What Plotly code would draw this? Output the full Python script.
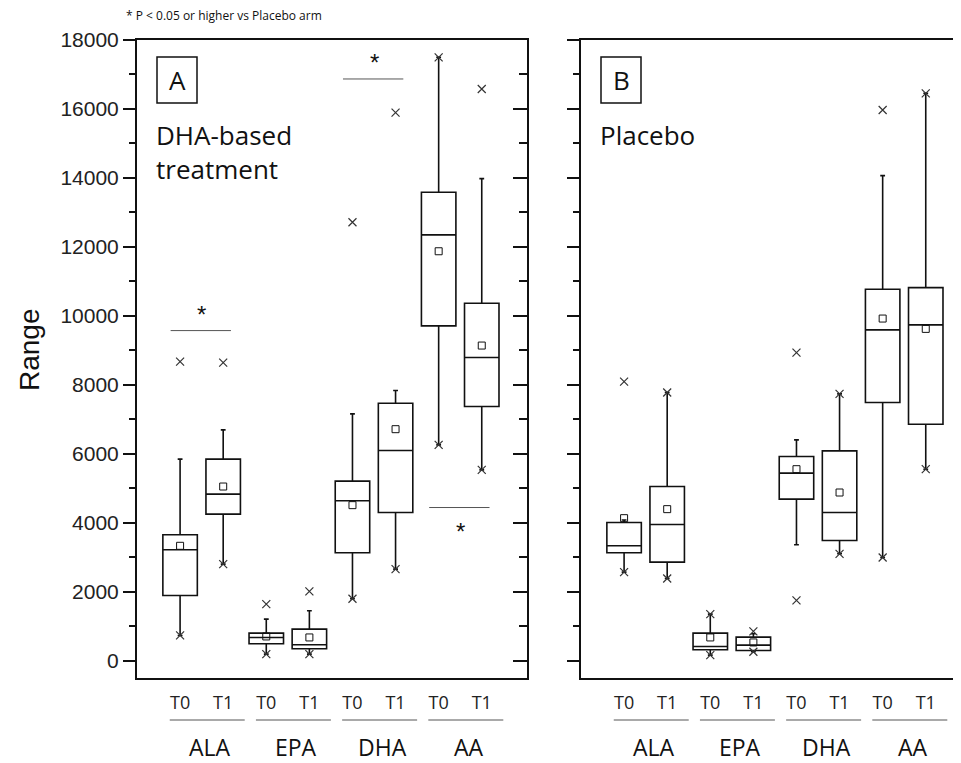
import plotly.graph_objects as go

# ---------------- data ----------------
categories = ["ALA", "EPA", "DHA", "AA"]
timepoints = ["T0", "T1"]
tick_labels = ["T0", "T1"] * 4

# Panel A: DHA-based treatment (order: ALA T0, ALA T1, EPA T0, EPA T1, DHA T0, DHA T1, AA T0, AA T1)
a_lower = [734, 2802, 193, 193, 1797, 2657, 6261, 5536]
a_q1 = [1893, 4251, 493, 348, 3130, 4300, 9710, 7372]
a_median = [3217, 4831, 676, 464, 4638, 6096, 12348, 8792]
a_q3 = [3652, 5846, 802, 918, 5208, 7469, 13585, 10367]
a_upper = [5846, 6696, 1208, 1449, 7159, 7835, 17498, 13981]
a_mean = [3333, 5052, 705, 676, 4512, 6715, 11874, 9140]
a_x_high = [8676, 8647, 1643, 2010, 12715, 15893, 17498, 16580]
a_x_low = [734, 2802, 193, 193, 1797, 2657, 6261, 5536]

# Panel B: Placebo
b_lower = [2570, 2386, 164, 261, 3362, 3101, 2994, 5555]
b_q1 = [3130, 2860, 319, 299, 4686, 3488, 7488, 6860]
b_median = [3333, 3951, 415, 454, 5440, 4300, 9594, 9739]
b_q3 = [4010, 5053, 802, 686, 5922, 6087, 10774, 10820]
b_upper = [4080, 7778, 1353, 783, 6406, 7739, 14067, 16454]
b_mean = [4135, 4396, 676, 531, 5555, 4879, 9923, 9623]
b_x_high = [8096, 7778, 1353, 850, 8936, 7739, 15971, 16454]
b_x_low = [2570, 2386, 164, 261, 1749, 3101, 2994, 5555]

# significance marks in panel A: (box index from, box index to, y level)
sig_pairs = [(1, 2, 9574), (5, 6, 16870), (7, 8, 4443)]
sig_star_above = [True, True, False]

positions = list(range(1, 9))

# ---------------- figure ----------------
# page body has an 8px margin: figure occupies screen pixels 8..961 x 8..763
OFF = 8
SW, SH = 961, 763
W, H = SW - OFF, SH - OFF
fig = go.Figure()

def px_x(p):
    return (p - OFF) / W

def px_y(p):
    return (SH - p) / H

BLACK = "#111111"
XCOL = "#333333"

def add_panel(xa, ya, lower, q1, med, q3, upper, mean, xhi, xlo):
    fig.add_trace(go.Box(
        x=positions, q1=q1, median=med, q3=q3,
        lowerfence=lower, upperfence=upper,
        boxpoints=False, width=0.8, whiskerwidth=0.14,
        fillcolor="rgba(255,255,255,0)",
        line=dict(color=BLACK, width=1.6),
        xaxis=xa, yaxis=ya, showlegend=False, hoverinfo="skip",
    ))
    fig.add_trace(go.Scatter(
        x=positions + positions, y=xhi + xlo, mode="markers",
        marker=dict(symbol="x-thin-open", size=8, color=XCOL, line=dict(color=XCOL, width=1.2)),
        xaxis=xa, yaxis=ya, showlegend=False, hoverinfo="skip",
    ))
    fig.add_trace(go.Scatter(
        x=positions, y=mean, mode="markers",
        marker=dict(symbol="square-open", size=7, color=BLACK, line=dict(color=BLACK, width=1)),
        xaxis=xa, yaxis=ya, showlegend=False, hoverinfo="skip",
    ))

add_panel("x", "y", a_lower, a_q1, a_median, a_q3, a_upper, a_mean, a_x_high, a_x_low)
add_panel("x2", "y2", b_lower, b_q1, b_median, b_q3, b_upper, b_mean, b_x_high, b_x_low)

# invisible traces to create right-side overlay axes
fig.add_trace(go.Scatter(x=[1], y=[0], mode="markers", marker=dict(opacity=0),
                         xaxis="x", yaxis="y3", showlegend=False, hoverinfo="skip"))
fig.add_trace(go.Scatter(x=[1], y=[0], mode="markers", marker=dict(opacity=0),
                         xaxis="x2", yaxis="y4", showlegend=False, hoverinfo="skip"))

yrange = [-500, 18000]
ydom = [px_y(678), px_y(40)]
xspan = 9.05
tickfont = dict(family="Liberation Sans, Arial, sans-serif", size=21, color="#222222")
catfont = dict(family="Open Sans, sans-serif", size=18, color="#222222")

common_x = dict(
    tickvals=positions, ticktext=tick_labels, tickfont=catfont,
    ticks="outside", ticklen=7, tickcolor="rgba(0,0,0,0)",
    showline=True, linecolor=BLACK, linewidth=2, mirror=True,
    showgrid=False, zeroline=False, automargin=False, fixedrange=True,
)
common_y = dict(
    range=yrange, dtick=2000, tick0=0, showgrid=False, zeroline=False,
    showline=True, linecolor=BLACK, linewidth=2, automargin=False, tickformat="d",
)

fig.update_layout(
    width=W, height=H,
    margin=dict(l=0, r=0, t=0, b=0),
    paper_bgcolor="white", plot_bgcolor="white",
    xaxis=dict(domain=[px_x(137), px_x(527)], range=[0, xspan], anchor="y", **common_x),
    xaxis2=dict(domain=[px_x(581), 1.0], range=[0, xspan * (SW - 581) / 390.0], anchor="y2", **common_x),
    yaxis=dict(domain=ydom, anchor="x", ticks="outside", ticklen=12, tickwidth=2,
               tickcolor=BLACK, tickfont=tickfont,
               minor=dict(dtick=1000, ticklen=6, tickwidth=2, ticks="outside", tickcolor=BLACK),
               **common_y),
    yaxis2=dict(domain=ydom, anchor="x2", ticks="outside", ticklen=12, tickwidth=2,
                tickcolor=BLACK, showticklabels=False,
                minor=dict(dtick=1000, ticklen=6, tickwidth=2, ticks="outside", tickcolor=BLACK),
                **common_y),
    yaxis3=dict(domain=ydom, overlaying="y", side="right", anchor="x", ticks="inside",
                ticklen=14, tickwidth=2, tickcolor=BLACK, showticklabels=False,
                minor=dict(dtick=1000, ticklen=8, tickwidth=2, ticks="inside", tickcolor=BLACK),
                **common_y),
    yaxis4=dict(domain=ydom, overlaying="y2", side="right", anchor="free", position=1.0,
                ticks="inside", ticklen=4, tickwidth=2, tickcolor=BLACK, showticklabels=False,
                range=yrange, dtick=2000, tick0=0, showgrid=False, zeroline=False,
                showline=False, automargin=False),
)

shapes = []
annotations = []

# significance lines + asterisks (panel A)
for (i0, i1, yv), above in zip(sig_pairs, sig_star_above):
    c = (i0 + i1) / 2.0
    shapes.append(dict(type="line", xref="x", yref="y", x0=c - 0.72, x1=c + 0.68, y0=yv, y1=yv,
                       line=dict(color="#555555", width=1)))
    annotations.append(dict(xref="x", yref="y", x=c, y=yv, text="*", showarrow=False,
                            yshift=16 if above else -24,
                            font=dict(family="Liberation Sans, Arial", size=24, color=BLACK)))

# group lines and group names under both panels
for xa in ["x", "x2"]:
    for g, name in enumerate(categories):
        base = 2 * g
        shapes.append(dict(type="line", xref=xa, yref="paper", x0=base + 0.76, x1=base + 2.5,
                           y0=px_y(720), y1=px_y(720), line=dict(color="#555555", width=1)))
        annotations.append(dict(xref=xa, yref="paper", x=base + 1.7, y=px_y(746.5), text=name,
                                showarrow=False, xanchor="center", yanchor="middle",
                                font=dict(family="Open Sans, sans-serif", size=23, color=BLACK)))

# panel letters and titles
panel_font = dict(family="Open Sans, sans-serif", size=26, color=BLACK)
for x0, letter in [(157, "A"), (601, "B")]:
    shapes.append(dict(type="rect", xref="paper", yref="paper",
                       x0=px_x(x0), x1=px_x(x0 + 40), y0=px_y(103), y1=px_y(57),
                       line=dict(color=BLACK, width=1.5)))
    annotations.append(dict(xref="paper", yref="paper", x=px_x(x0 + 20), y=px_y(80), text=letter,
                            showarrow=False, xanchor="center", yanchor="middle", font=panel_font))

annotations.append(dict(xref="paper", yref="paper", x=px_x(154), y=px_y(115),
                        text="DHA-based<br>treatment", showarrow=False, xanchor="left",
                        yanchor="top", align="left", font=panel_font))
annotations.append(dict(xref="paper", yref="paper", x=px_x(598), y=px_y(115),
                        text="Placebo", showarrow=False, xanchor="left",
                        yanchor="top", align="left", font=panel_font))

# footnote
annotations.append(dict(xref="paper", yref="paper", x=px_x(124), y=px_y(16),
                        text="* P < 0.05 or higher vs Placebo arm", showarrow=False,
                        xanchor="left", yanchor="middle",
                        font=dict(family="Open Sans, sans-serif", size=12, color=BLACK)))

# y axis title
annotations.append(dict(xref="paper", yref="paper", x=px_x(30), y=px_y(350), text="Range",
                        showarrow=False, textangle=-90, xanchor="center", yanchor="middle",
                        font=dict(family="Liberation Sans, Arial, sans-serif", size=28, color=BLACK)))

fig.update_layout(shapes=shapes, annotations=annotations)
fig.write_html("out.html")
